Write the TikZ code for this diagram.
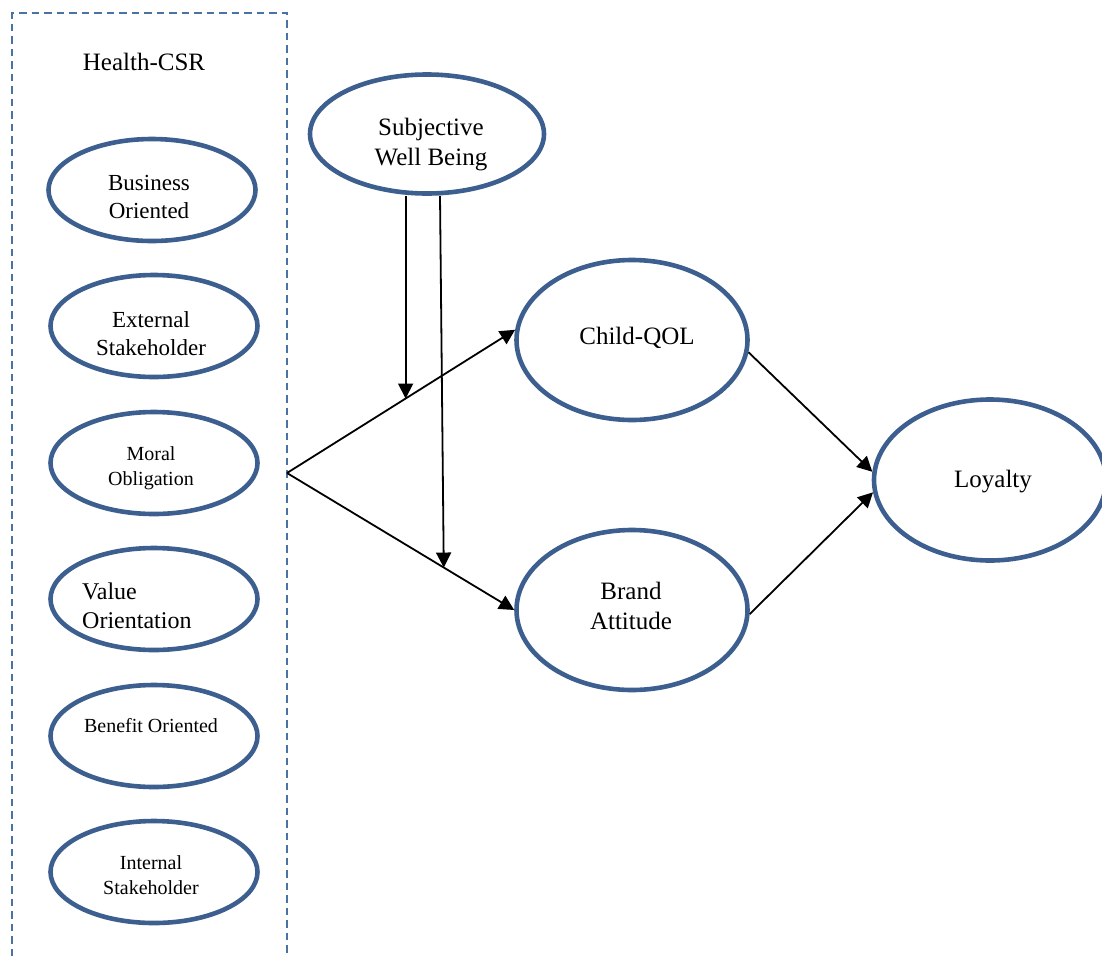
\documentclass[tikz,border=0pt]{standalone}
\usepackage{fontspec}
\setmainfont{Liberation Serif}
\usepackage{tikz}
\usetikzlibrary{shapes.geometric, arrows.meta, positioning, calc}

\definecolor{ovalblue}{RGB}{60,95,143}
\definecolor{boxblue}{RGB}{74,114,162}

\tikzset{
  dim/.style={ellipse, draw=ovalblue, line width=4.6pt, inner sep=0pt,
    minimum width=207pt, minimum height=102pt},
  construct/.style={ellipse, draw=ovalblue, line width=4.6pt, inner sep=0pt,
    minimum width=231pt, minimum height=160pt},
  lbl/.style={inner sep=0pt, align=center},
  link/.style={line width=1.8pt, -{Triangle[length=15pt,width=15pt]}}
}

\begin{document}
\begin{tikzpicture}[x=1pt, y=-1pt]
        \useasboundingbox (0,0) rectangle (1102,956);

        % Health-CSR group
        \draw[boxblue, line width=2.6pt, dash pattern=on 7.5pt off 5pt] (12,956) -- (12,13) -- (287,13) -- (287,956);
        \node[lbl, font=\fontsize{25}{30}\selectfont] (csr) at (144,62) {Health-CSR};
        \node[dim] (bus) at (152,190) {};
        \node[dim] (ext) at (154,326) {};
        \node[dim] (mor) at (154,463) {};
        \node[dim] (val) at (154,599) {};
        \node[dim] (ben) at (154,736) {};
        \node[dim] (int) at (154,872) {};
        \node[lbl, font=\fontsize{23}{27.6}\selectfont] (bus-t) at (149,197) {Business\\Oriented};
        \node[lbl, font=\fontsize{23}{27.6}\selectfont] (ext-t) at (151,333.5) {External\\Stakeholder};
        \node[lbl, font=\fontsize{20}{25}\selectfont] (mor-t) at (151,468.5) {Moral\\Obligation};
        \node[lbl, font=\fontsize{24}{29}\selectfont, align=left, anchor=west] (val-t) at (82,606) {Value\\Orientation};
        \node[lbl, font=\fontsize{20}{25}\selectfont] (ben-t) at (151,726) {Benefit Oriented};
        \node[lbl, font=\fontsize{20}{25}\selectfont] (int-t) at (151,875) {Internal\\Stakeholder};

        % Model constructs
        \node[construct, minimum width=234pt, minimum height=119pt] (swb) at (427,134) {};
        \node[construct] (cqol) at (632,340) {};
        \node[construct] (ba) at (632,610) {};
        \node[construct, minimum width=232pt, minimum height=161pt] (loy) at (990,480) {};
        \node[lbl, font=\fontsize{25}{30}\selectfont] (swb-t) at (431,144.5) {Subjective\\Well Being};
        \node[lbl, font=\fontsize{25}{30}\selectfont] (cqol-t) at (637,338) {Child-QOL};
        \node[lbl, font=\fontsize{25}{30}\selectfont] (ba-t) at (631,605.5) {Brand\\Attitude};
        \node[lbl, font=\fontsize{25}{30}\selectfont] (loy-t) at (993,482) {Loyalty};

        % Paths
        \coordinate (fork) at (287,473);
        \draw[link] (fork) -- (cqol.175);
        \draw[link] (fork) -- (ba.west);
        \coordinate (m1) at ($(fork)!0.52!(cqol.175)$);
        \coordinate (m2) at ($(fork)!0.69!(ba.west)$);
        \draw[link] (swb.south -| m1) -- (m1);
        \draw[link] ([xshift=13pt]swb.south) -- (m2);
        \draw[link] (cqol.-6) -- (loy.176);
        \draw[link] (ba.-2) -- (loy.186);
    \end{tikzpicture}
\end{document}
